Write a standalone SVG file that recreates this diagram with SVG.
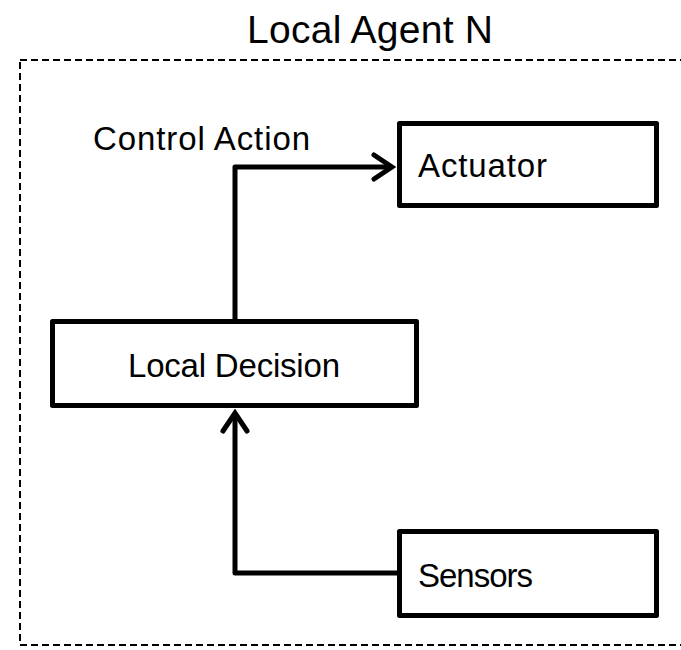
<svg xmlns="http://www.w3.org/2000/svg" width="681" height="650" viewBox="0 0 681 650">
  <style>
    .box { fill: #ffffff; stroke: #000000; stroke-width: 5; stroke-linejoin: round; }
    .frame { fill: none; stroke: #000000; stroke-width: 2; stroke-dasharray: 7 4; }
    .conn { fill: none; stroke: #000000; stroke-width: 5; stroke-linejoin: round; }
    .lbl { font-family: "Liberation Sans", Arial, sans-serif; font-size: 33px; fill: #000000; }
    .title { font-family: "Liberation Sans", Arial, sans-serif; font-size: 39px; fill: #000000; }
  </style>
  <defs>
    <marker id="arrow" markerUnits="userSpaceOnUse" viewBox="-22 -15 26 30" markerWidth="26" markerHeight="30" refX="0" refY="0" orient="auto">
      <path d="M-18,-12 L0,0 L-18,12" fill="none" stroke="#000000" stroke-width="5" stroke-linecap="round" stroke-linejoin="miter"/>
    </marker>
  </defs>
  <rect id="background" x="0" y="0" width="681" height="650" fill="#ffffff"/>

  <g id="agent-frame">
    <rect class="frame" x="20" y="60" width="690" height="585"/>
    <text class="title" x="247" y="43" textLength="246">Local Agent N</text>
  </g>

  <g id="connectors">
    <path class="conn" d="M235,319 L235,167 L392,167" marker-end="url(#arrow)"/>
    <path class="conn" d="M397,573 L235,573 L235,413" marker-end="url(#arrow)"/>
    <text class="lbl" x="93" y="150" textLength="217">Control Action</text>
  </g>

  <g id="actuator">
    <rect class="box" x="399.5" y="123.5" width="257" height="82"/>
    <text class="lbl" x="418" y="177" textLength="129">Actuator</text>
  </g>

  <g id="local-decision">
    <rect class="box" x="52.5" y="321.5" width="364" height="84"/>
    <text class="lbl" x="128" y="377" textLength="212">Local Decision</text>
  </g>

  <g id="sensors">
    <rect class="box" x="399.5" y="531.5" width="257" height="84"/>
    <text class="lbl" x="418" y="587" textLength="115">Sensors</text>
  </g>
</svg>
